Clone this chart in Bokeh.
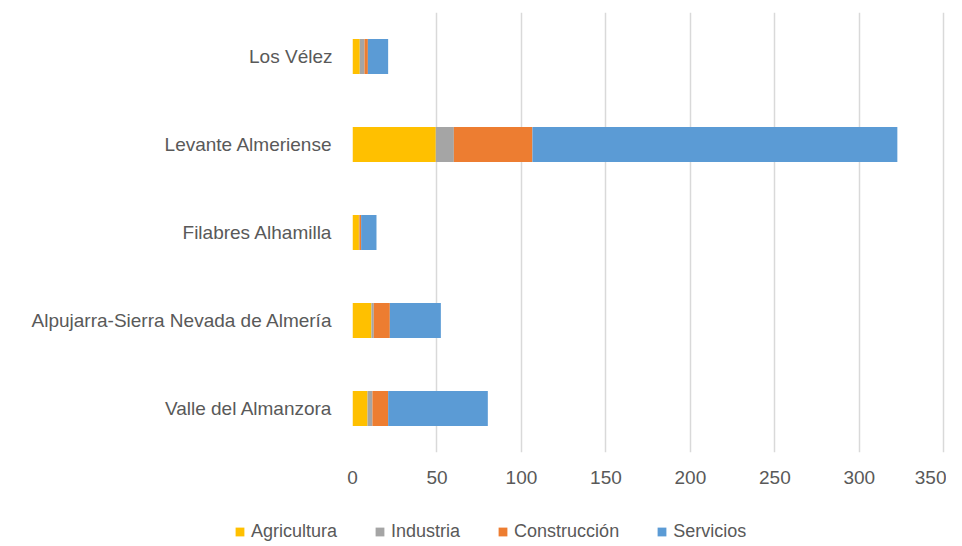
from bokeh.plotting import figure
from bokeh.models import Legend, LegendItem, Range1d, FixedTicker, ColumnDataSource
from bokeh.layouts import column
from bokeh.embed import file_html
from bokeh.resources import INLINE

regions = ["Valle del Almanzora", "Alpujarra-Sierra Nevada de Almería",
           "Filabres Alhamilla", "Levante Almeriense", "Los Vélez"]
agricultura = [8.9, 11.2, 3.8, 49.3, 4.3]
industria = [2.9, 1.4, 0.3, 10.7, 2.8]
construccion = [9.3, 9.5, 1.0, 46.5, 2.0]
servicios = [59.0, 30.2, 9.1, 216.0, 12.0]
sectors = ["Agricultura", "Industria", "Construcción", "Servicios"]
colors = ["#FFC000", "#A5A5A5", "#ED7D31", "#5B9BD5"]
x_ticks = [0, 50, 100, 150, 200, 250, 300, 350]

FONT = "Liberation Sans"
TXT = "#595959"

p = figure(y_range=regions, x_range=Range1d(0, 351),
           frame_width=593, frame_height=440,
           min_border_left=352, min_border_top=12, min_border_right=1,
           min_border_bottom=0,
           output_backend="svg", toolbar_location=None)

data = dict(region=regions, Agricultura=agricultura, Industria=industria,
            Construcción=construccion, Servicios=servicios)
renderers = p.hbar_stack(sectors, y="region", height=0.4, color=colors,
                         line_color=None, source=data)

p.xaxis.ticker = FixedTicker(ticks=x_ticks)
p.xgrid.grid_line_color = "#D9D9D9"
p.xgrid.grid_line_width = 1.5
p.ygrid.grid_line_color = None
p.outline_line_color = None
for ax in (p.xaxis, p.yaxis):
    ax.axis_line_color = None
    ax.major_tick_line_color = None
    ax.minor_tick_line_color = None
    ax.major_label_text_font = FONT
    ax.major_label_text_color = TXT
p.xaxis.major_label_text_font_size = "19px"
p.yaxis.major_label_text_font_size = "19px"
p.xaxis.major_label_standoff = 12
p.yaxis.major_label_standoff = 14

# legend strip below the chart
p2 = figure(frame_width=946, frame_height=60, min_border=0,
            x_range=Range1d(0, 1), y_range=Range1d(0, 1),
            output_backend="svg", toolbar_location=None)
p2.axis.visible = False
p2.grid.grid_line_color = None
p2.outline_line_color = None
items = []
for s, c in zip(sectors, colors):
    r = p2.hbar(y="y", right="r", left="l", height=0.4, color=c, line_color=None,
                source=ColumnDataSource(dict(y=[5], r=[6], l=[5])))
    items.append(LegendItem(label=s, renderers=[r]))
legend = Legend(items=items, orientation="horizontal", location=(234, 4),
                label_text_font=FONT, label_text_font_size="18px",
                label_text_color=TXT, glyph_width=11, glyph_height=11,
                spacing=37, label_standoff=6, border_line_color=None,
                background_fill_alpha=0, padding=0, margin=0)
p2.add_layout(legend, "center")

open("out.html", "w").write(file_html(column(p, p2), INLINE))
